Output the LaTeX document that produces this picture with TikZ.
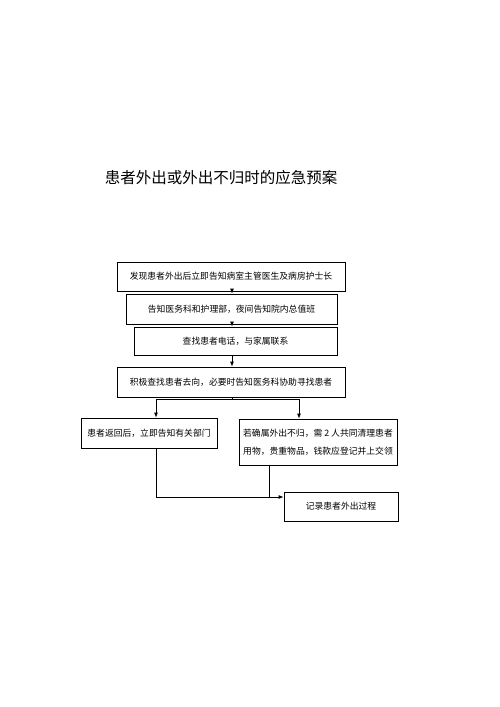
\documentclass[tikz,border=0pt]{standalone}
\usepackage{fontspec}
\newfontfamily\cjk{Noto Sans CJK SC}
\usetikzlibrary{arrows.meta}
\tikzset{
  box/.style={draw=black, line width=0.8pt, inner sep=0pt, align=center, font=\cjk\fontsize{8.8}{18}\selectfont},
  arr/.style={draw=black, line width=0.8pt, -{Latex[length=5pt,width=4pt]}},
  ln/.style={draw=black, line width=0.8pt}
}
\begin{document}
\begin{tikzpicture}[x=1pt,y=-1pt]
\useasboundingbox (0,0) rectangle (500,707);
\node[font=\cjk\fontsize{15.5}{18}\selectfont] (title) at (221,178) {患者外出或外出不归时的应急预案};
\node[box, minimum width=228pt, minimum height=29pt] (b1) at (231,276.5) {发现患者外出后立即告知病室主管医生及病房护士长};
\node[box, minimum width=211pt, minimum height=30pt] (b2) at (231.5,309) {告知医务科和护理部，夜间告知院内总值班};
\node[box, minimum width=203pt, minimum height=28pt] (b3) at (235.5,341) {查找患者电话，与家属联系};
\node[box, minimum width=228pt, minimum height=30pt] (b4) at (231,382) {积极查找患者去向，必要时告知医务科协助寻找患者};
\node[box, minimum width=136pt, minimum height=30pt] (b5) at (149,433) {患者返回后，立即告知有关部门};
\node[box, minimum width=158pt, minimum height=46pt] (b6) at (318,442) {若确属外出不归，需 2 人共同清理患者\\用物，贵重物品，钱款应登记并上交领};
\node[box, minimum width=114pt, minimum height=29pt] (b7) at (341,506.5) {记录患者外出过程};
\coordinate (ax) at (232,0);
\coordinate (lx) at (156,0);
\coordinate (rx) at (299,0);
\coordinate (mx) at (269,0);
\coordinate (by) at (0,399);
\coordinate (jy) at (0,497);
\draw[arr] (b1.south -| ax) -- (b2.north -| ax);
\draw[arr] (b2.south -| ax) -- (b3.north -| ax);
\draw[arr] (b3.south -| ax) -- (b4.north -| ax);
\draw[ln] (b4.south -| ax) -- (by -| ax);
\draw[ln] (by -| lx) -- (by -| rx);
\draw[arr] (by -| lx) -- (b5.north -| lx);
\draw[arr] (by -| rx) -- (b6.north -| rx);
\draw[arr] (b5.south -| lx) -- (jy -| lx) -- (b7.west |- jy);
\draw[ln] (b6.south -| mx) -- (jy -| mx);
\end{tikzpicture}
\end{document}
